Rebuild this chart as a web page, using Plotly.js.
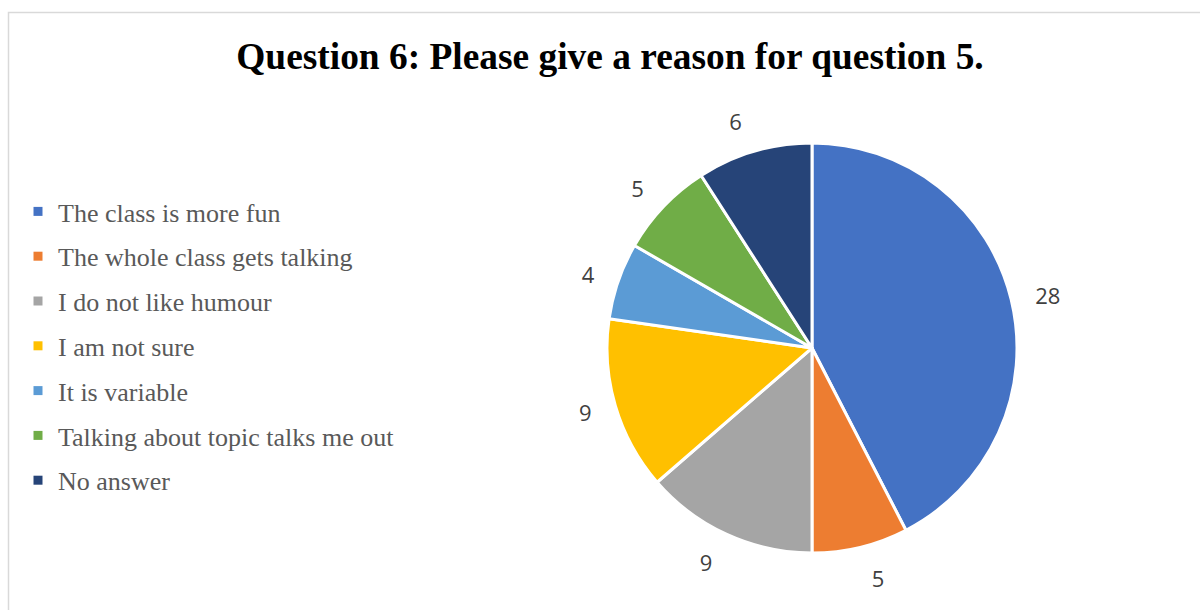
<!DOCTYPE html>
<html>
<head>
<meta charset="utf-8">
<script src="https://cdn.plot.ly/plotly-3.0.1.min.js"></script>
<style>html,body{margin:0;padding:0;background:#fff}#chart{width:1200px;height:610px}</style>
</head>
<body>
<div id="chart"></div>
<script>
const categories = [
  "The class is more fun",
  "The whole class gets talking",
  "I do not like humour",
  "I am not sure",
  "It is variable",
  "Talking about topic talks me out",
  "No answer"
];
const counts = [28, 5, 9, 9, 4, 5, 6];
const colors = ["#4472C4", "#ED7D31", "#A5A5A5", "#FFC000", "#5B9BD5", "#70AD47", "#264478"];

const W = 1200, H = 610;
const cx = 812, cy = 348, R = 205, labelR = 222;

// invisible larger pie that only carries the outside value labels
const labelPie = {
  type: "pie",
  labels: categories,
  values: counts,
  sort: false,
  direction: "clockwise",
  rotation: 0,
  marker: {colors: categories.map(() => "rgba(0,0,0,0)"), line: {width: 0}},
  textinfo: "value",
  textposition: "outside",
  outsidetextfont: {family: "Open Sans, Noto Sans, sans-serif", size: 22, color: "#404040"},
  showlegend: false,
  hoverinfo: "skip",
  domain: {x: [(cx - labelR) / W, (cx + labelR) / W], y: [1 - (cy + labelR) / H, 1 - (cy - labelR) / H]}
};

const pie = {
  type: "pie",
  labels: categories,
  values: counts,
  sort: false,
  direction: "clockwise",
  rotation: 0,
  marker: {colors: colors, line: {color: "#ffffff", width: 3}},
  textinfo: "none",
  showlegend: false,
  hoverinfo: "label+value",
  domain: {x: [(cx - R) / W, (cx + R) / W], y: [1 - (cy + R) / H, 1 - (cy - R) / H]}
};

const legendTraces = categories.map((c, i) => ({
  type: "scatter",
  x: [null], y: [null],
  mode: "markers",
  name: c,
  legendgroup: "g" + i,
  marker: {symbol: "square", size: 9, color: colors[i]},
  hoverinfo: "skip"
}));

const layout = {
  width: W, height: H,
  margin: {l: 0, r: 0, t: 0, b: 0},
  paper_bgcolor: "#ffffff",
  plot_bgcolor: "#ffffff",
  xaxis: {visible: false, domain: [0, 0.01]},
  yaxis: {visible: false, domain: [0, 0.01]},
  title: {
    text: "Question 6: Please give a reason for question 5.",
    font: {family: "Liberation Serif, Times New Roman, serif", size: 37.4, color: "#000000", weight: "bold"},
    x: 610 / W, xanchor: "center",
    y: 1 - 56 / H, yanchor: "middle"
  },
  showlegend: true,
  legend: {
    x: 18 / W, xanchor: "left",
    y: 1 - 188 / H, yanchor: "top",
    font: {family: "Liberation Serif, Times New Roman, serif", size: 26, color: "#595959"},
    tracegroupgap: 8,
    bgcolor: "rgba(0,0,0,0)"
  },
  shapes: [{
    type: "rect", xref: "paper", yref: "paper",
    x0: 8.5 / W, x1: 1.02, y0: -0.02, y1: 1 - 12.5 / H,
    line: {color: "#D9D9D9", width: 1.5}, fillcolor: "rgba(0,0,0,0)", layer: "below"
  }]
};

Plotly.newPlot("chart", [labelPie, pie].concat(legendTraces), layout, {displayModeBar: false, staticPlot: true});
</script>
</body>
</html>
